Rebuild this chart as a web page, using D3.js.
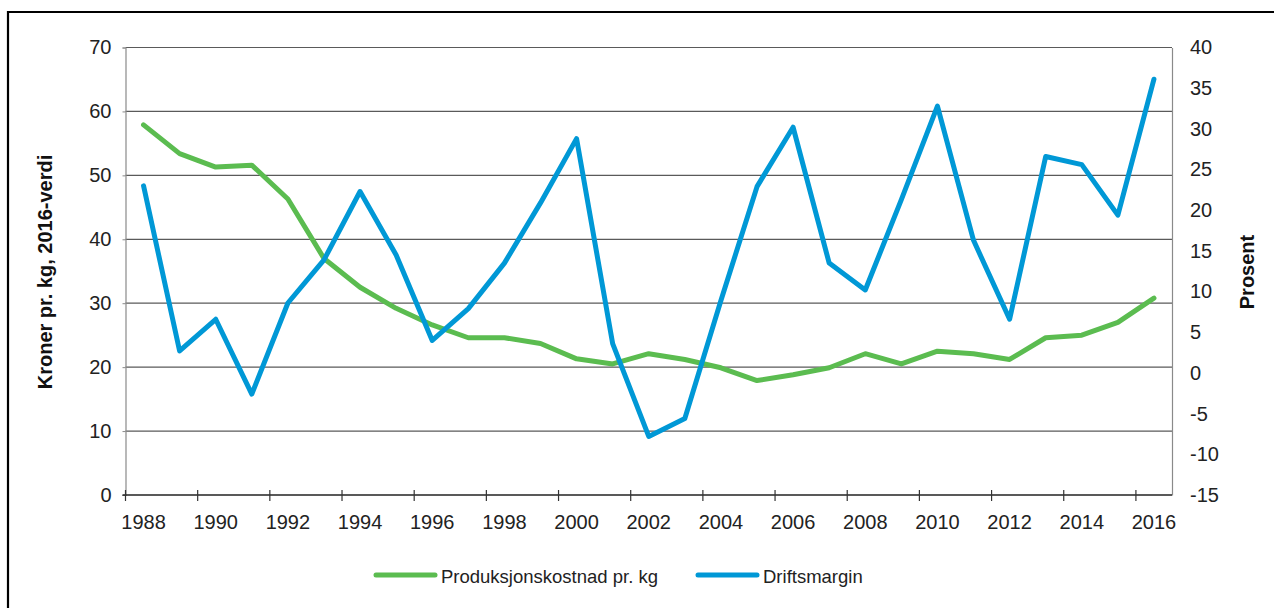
<!DOCTYPE html>
<html>
<head>
<meta charset="utf-8">
<script src="https://cdn.jsdelivr.net/npm/d3@7"></script>
<style>
  html, body { margin: 0; padding: 0; background: #fff; }
  svg { display: block; font-family: "Liberation Sans", Arial, sans-serif; }
</style>
</head>
<body>
<svg id="chart" width="1274" height="608"></svg>
<script>
const years = [1988,1989,1990,1991,1992,1993,1994,1995,1996,1997,1998,1999,2000,2001,2002,2003,2004,2005,2006,2007,2008,2009,2010,2011,2012,2013,2014,2015,2016];
const produksjonskostnad = [57.9,53.4,51.3,51.6,46.3,37.0,32.5,29.2,26.6,24.6,24.6,23.7,21.3,20.5,22.1,21.2,19.9,17.9,18.8,19.9,22.1,20.5,22.5,22.1,21.2,24.6,25.0,27.0,30.8];
const driftsmargin = [23.0,2.7,6.6,-2.6,8.6,13.9,22.3,14.5,4.0,7.9,13.5,20.9,28.8,3.6,-7.8,-5.6,8.9,22.9,30.2,13.5,10.2,21.3,32.8,16.3,6.6,26.6,25.6,19.4,36.1];
const leftTicks = [0,10,20,30,40,50,60,70];
const rightTicks = [-15,-10,-5,0,5,10,15,20,25,30,35,40];
const xLabelYears = years.filter(y => y % 2 === 0);
const seriesNames = ["Produksjonskostnad pr. kg", "Driftsmargin"];
const colors = ["#5bbc50", "#0098d6"];

const svg = d3.select("#chart");
const W = 1274, H = 608;
const m = {left: 125.5, right: 1172, top: 47.5, bottom: 495};

// frame (top and left edges)
svg.append("line").attr("x1", 8).attr("x2", W).attr("y1", 12).attr("y2", 12)
  .attr("stroke", "#000").attr("stroke-width", 2.2);
svg.append("line").attr("x1", 8).attr("x2", 8).attr("y1", 11).attr("y2", H)
  .attr("stroke", "#000").attr("stroke-width", 2.2);

const x = d3.scaleBand().domain(years).range([m.left, m.right]).padding(0);
const yL = d3.scaleLinear().domain([0, 70]).range([m.bottom, m.top]);
const yR = d3.scaleLinear().domain([-15, 40]).range([m.bottom, m.top]);
const cx = d => x(d) + x.bandwidth() / 2;

// gridlines
svg.append("g").selectAll("line").data(leftTicks.filter(t => t > 0)).join("line")
  .attr("x1", m.left).attr("x2", m.right)
  .attr("y1", d => yL(d)).attr("y2", d => yL(d))
  .attr("stroke", "#5a5a5a").attr("stroke-width", 1.2);

// left axis
const gL = svg.append("g").attr("transform", `translate(${m.left},0)`)
  .call(d3.axisLeft(yL).tickValues(leftTicks).tickSize(3).tickPadding(11).tickFormat(d => String(d)));
gL.select(".domain").attr("stroke", "#8a8a8a").attr("stroke-width", 1.2);
gL.selectAll(".tick line").attr("stroke", "#8a8a8a");
gL.selectAll("text").attr("font-size", 20).attr("fill", "#222").attr("font-family", "Liberation Sans, Arial, sans-serif");

// right axis
const gR = svg.append("g").attr("transform", `translate(${m.right},0)`)
  .call(d3.axisRight(yR).tickValues(rightTicks).tickSize(0).tickPadding(18).tickFormat(d => String(d)));
gR.select(".domain").attr("stroke", "#8a8a8a").attr("stroke-width", 1.2);
gR.selectAll("text").attr("font-size", 20).attr("fill", "#222").attr("font-family", "Liberation Sans, Arial, sans-serif");

// bottom axis line
svg.append("line").attr("x1", m.left - 3).attr("x2", m.right).attr("y1", m.bottom).attr("y2", m.bottom)
  .attr("stroke", "#222").attr("stroke-width", 1.3);
// ticks at band boundaries
svg.append("g").selectAll("line").data(xLabelYears).join("line")
  .attr("x1", d => x(d)).attr("x2", d => x(d))
  .attr("y1", m.bottom - 5).attr("y2", m.bottom + 6)
  .attr("stroke", "#333").attr("stroke-width", 1.2);
svg.append("g").selectAll("text").data(xLabelYears).join("text")
  .attr("x", d => cx(d)).attr("y", m.bottom + 34)
  .attr("text-anchor", "middle").attr("font-size", 20).attr("fill", "#222")
  .text(d => d);

// lines
const lineL = d3.line().x((d, i) => cx(years[i])).y(d => yL(d));
const lineR = d3.line().x((d, i) => cx(years[i])).y(d => yR(d));
svg.append("path").datum(produksjonskostnad).attr("d", lineL)
  .attr("fill", "none").attr("stroke", colors[0]).attr("stroke-width", 5)
  .attr("stroke-linejoin", "round").attr("stroke-linecap", "round");
svg.append("path").datum(driftsmargin).attr("d", lineR)
  .attr("fill", "none").attr("stroke", colors[1]).attr("stroke-width", 5)
  .attr("stroke-linejoin", "round").attr("stroke-linecap", "round");

// axis titles
svg.append("text").attr("transform", "translate(52,272) rotate(-90)")
  .attr("text-anchor", "middle").attr("font-weight", "bold").attr("font-size", 20).attr("fill", "#111")
  .text("Kroner pr. kg, 2016-verdi");
svg.append("text").attr("transform", "translate(1254,272) rotate(-90)")
  .attr("text-anchor", "middle").attr("font-weight", "bold").attr("font-size", 20).attr("fill", "#111")
  .text("Prosent");

// legend
const legendX = [376, 698];
const lg = svg.append("g").selectAll("g").data(seriesNames).join("g")
  .attr("transform", (d, i) => `translate(${legendX[i]},575)`);
lg.append("line").attr("x1", 0).attr("x2", 59).attr("y1", 0).attr("y2", 0)
  .attr("stroke", (d, i) => colors[i]).attr("stroke-width", 5).attr("stroke-linecap", "round");
lg.append("text").attr("x", 65).attr("y", 7.5).attr("font-size", 18.5).attr("fill", "#222")
  .text(d => d);
</script>
</body>
</html>
